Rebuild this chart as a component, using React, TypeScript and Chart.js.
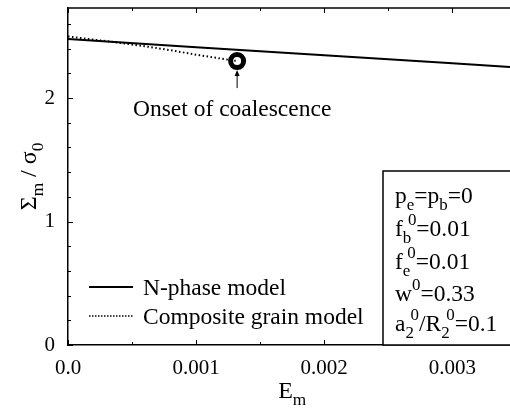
import React, { useEffect, useRef } from "react";
import { Chart, registerables } from "chart.js";

Chart.register(...registerables);

// ---- data ----
const NPHASE_X = [0, 0.001, 0.002, 0.003, 0.00345];
const NPHASE_Y = [2.478, 2.413, 2.347, 2.282, 2.252];

const COMPOSITE_X = [0, 0.0002, 0.0004, 0.0006, 0.0008, 0.001, 0.00132];
const COMPOSITE_Y = [2.5, 2.474, 2.448, 2.42, 2.388, 2.352, 2.3];

const ONSET_X = [0.00132];
const ONSET_Y = [2.3];

const X_TICKS = [0, 0.001, 0.002, 0.003];
const X_TICK_LABELS = ["0.0", "0.001", "0.002", "0.003"];
const X_MINOR = [0.0005, 0.0015, 0.0025];
const Y_TICKS = [0, 1, 2];
const Y_TICK_LABELS = ["0", "1", "2"];
const Y_MINOR = [0.2, 0.4, 0.6, 0.8, 1.2, 1.4, 1.6, 1.8, 2.2, 2.4, 2.6];

const X_MIN = 0;
const X_MAX = 0.00345;
const Y_MIN = 0;
const Y_MAX = 2.73;

const LEGEND_LABELS = ["N-phase model", "Composite grain model"];
const ANNOTATION = "Onset of coalescence";

const FONT = '"Liberation Serif", "Times New Roman", serif';

type Seg = { t: string; sub?: string; sup?: string };

const PARAMS: Seg[][] = [
  [{ t: "p", sub: "e" }, { t: "=p", sub: "b" }, { t: "=0" }],
  [{ t: "f", sub: "b", sup: "0" }, { t: "=0.01" }],
  [{ t: "f", sub: "e", sup: "0" }, { t: "=0.01" }],
  [{ t: "w", sup: "0" }, { t: "=0.33" }],
  [{ t: "a", sub: "2", sup: "0" }, { t: "/R", sub: "2", sup: "0" }, { t: "=0.1" }],
];

function richWidth(ctx: CanvasRenderingContext2D, segs: Seg[], size: number) {
  let w = 0;
  const small = size * 0.72;
  for (const s of segs) {
    ctx.font = `${size}px ${FONT}`;
    w += ctx.measureText(s.t).width;
    ctx.font = `${small}px ${FONT}`;
    const subW = s.sub ? ctx.measureText(s.sub).width : 0;
    const supW = s.sup ? ctx.measureText(s.sup).width : 0;
    const supX = s.sub ? subW * 0.6 : 0;
    w += Math.max(subW, s.sup ? supX + supW : 0);
  }
  return w;
}

function drawRich(ctx: CanvasRenderingContext2D, x: number, y: number, segs: Seg[], size: number) {
  const small = size * 0.72;
  ctx.textAlign = "left";
  ctx.textBaseline = "alphabetic";
  for (const s of segs) {
    ctx.font = `${size}px ${FONT}`;
    ctx.fillText(s.t, x, y);
    x += ctx.measureText(s.t).width;
    ctx.font = `${small}px ${FONT}`;
    const subW = s.sub ? ctx.measureText(s.sub).width : 0;
    const supW = s.sup ? ctx.measureText(s.sup).width : 0;
    if (s.sub) ctx.fillText(s.sub, x, y + size * 0.28);
    const supX = s.sub ? subW * 0.6 : 0;
    if (s.sup) ctx.fillText(s.sup, x + supX, y - size * 0.48);
    x += Math.max(subW, s.sup ? supX + supW : 0);
  }
}

const decorPlugin = {
  id: "decor",
  afterDraw(chart: any) {
    const ctx: CanvasRenderingContext2D = chart.ctx;
    const { left, right, top, bottom } = chart.chartArea;
    const xs = chart.scales.x;
    const ys = chart.scales.y;
    ctx.save();
    ctx.strokeStyle = "#000";
    ctx.fillStyle = "#000";

    // top frame line
    ctx.lineWidth = 1.5;
    ctx.beginPath();
    ctx.moveTo(left, top);
    ctx.lineTo(right, top);
    ctx.stroke();

    // inward tick marks
    ctx.lineWidth = 1;
    const tick = (x1: number, y1: number, x2: number, y2: number) => {
      ctx.beginPath();
      ctx.moveTo(x1, y1);
      ctx.lineTo(x2, y2);
      ctx.stroke();
    };
    for (const v of X_TICKS) {
      const px = Math.round(xs.getPixelForValue(v)) + 0.5;
      tick(px, bottom, px, bottom - 5);
      tick(px, top, px, top + 5);
    }
    for (const v of X_MINOR) {
      const px = Math.round(xs.getPixelForValue(v)) + 0.5;
      tick(px, bottom, px, bottom - 3);
      tick(px, top, px, top + 3);
    }
    for (const v of Y_TICKS) {
      const py = Math.round(ys.getPixelForValue(v)) + 0.5;
      tick(left, py, left + 5, py);
    }
    for (const v of Y_MINOR) {
      const py = Math.round(ys.getPixelForValue(v)) + 0.5;
      tick(left, py, left + 3, py);
    }

    // legend
    ctx.lineWidth = 2;
    ctx.setLineDash([]);
    tick(89, 287, 133, 287);
    ctx.setLineDash([1.5, 1.5]);
    ctx.lineWidth = 1.5;
    tick(89, 316, 133, 316);
    ctx.setLineDash([]);
    ctx.font = `23.5px ${FONT}`;
    ctx.textAlign = "left";
    ctx.textBaseline = "alphabetic";
    ctx.fillText(LEGEND_LABELS[0], 143, 295);
    ctx.fillText(LEGEND_LABELS[1], 143, 324);

    // annotation arrow
    const mx = xs.getPixelForValue(ONSET_X[0]);
    const my = ys.getPixelForValue(ONSET_Y[0]);
    ctx.lineWidth = 1;
    tick(mx, my + 12, mx, my + 27);
    ctx.beginPath();
    ctx.moveTo(mx, my + 9);
    ctx.lineTo(mx - 2.5, my + 15);
    ctx.lineTo(mx + 2.5, my + 15);
    ctx.closePath();
    ctx.fill();
    ctx.font = `23.5px ${FONT}`;
    ctx.fillText(ANNOTATION, 133, 116);

    // parameter box
    ctx.fillStyle = "#fff";
    ctx.fillRect(383, 171, right - 383 + 5, bottom - 171);
    ctx.fillStyle = "#000";
    ctx.lineWidth = 1.5;
    ctx.strokeRect(383, 171, right - 383 + 10, bottom - 171);
    const baselines = [203, 236, 269, 301, 331];
    PARAMS.forEach((segs, i) => drawRich(ctx, 395, baselines[i], segs, 23.5));

    // axis titles
    const xt: Seg[] = [{ t: "E", sub: "m" }];
    const xw = richWidth(ctx, xt, 24);
    drawRich(ctx, (left + xs.getPixelForValue(0.0035)) / 2 - xw / 2, 398, xt, 24);

    const yt: Seg[] = [{ t: "Σ", sub: "m" }, { t: " / σ", sub: "0" }];
    const yw = richWidth(ctx, yt, 24);
    ctx.translate(36, (top + bottom) / 2);
    ctx.rotate(-Math.PI / 2);
    drawRich(ctx, -yw / 2, 0, yt, 24);

    ctx.restore();
  },
};

export default function App() {
  const ref = useRef<HTMLCanvasElement | null>(null);
  useEffect(() => {
    document.body.style.margin = "0";
    const canvas = ref.current;
    if (!canvas) return;
    const chart = new Chart(canvas, {
      type: "scatter",
      data: {
        datasets: [
          {
            label: LEGEND_LABELS[0],
            data: NPHASE_X.map((x, i) => ({ x, y: NPHASE_Y[i] })),
            showLine: true,
            borderColor: "#000",
            borderWidth: 2,
            pointRadius: 0,
          },
          {
            label: LEGEND_LABELS[1],
            data: COMPOSITE_X.map((x, i) => ({ x, y: COMPOSITE_Y[i] })),
            showLine: true,
            borderColor: "#000",
            borderWidth: 2,
            borderDash: [1.5, 2.5],
            pointRadius: 0,
          },
          {
            label: ANNOTATION,
            data: ONSET_X.map((x, i) => ({ x, y: ONSET_Y[i] })),
            showLine: false,
            pointRadius: 6.5,
            pointBorderWidth: 5,
            pointBorderColor: "#000",
            pointBackgroundColor: "#fff",
          },
        ],
      },
      options: {
        responsive: false,
        animation: false,
        events: [],
        layout: { autoPadding: false, padding: { top: 8, right: 0, left: 0, bottom: 0 } },
        plugins: { legend: { display: false }, tooltip: { enabled: false }, title: { display: false } },
        scales: {
          x: {
            type: "linear",
            min: X_MIN,
            max: X_MAX,
            grid: { display: false, drawTicks: false, tickLength: 0 },
            border: { display: true, color: "#000", width: 1.5 },
            afterBuildTicks: (s: any) => {
              s.ticks = X_TICKS.map((v) => ({ value: v }));
            },
            afterFit: (s: any) => {
              s.height = 63;
              s.paddingLeft = 0;
              s.paddingRight = 0;
              s.paddingTop = 0;
              s.paddingBottom = 0;
            },
            ticks: {
              color: "#000",
              font: { family: FONT, size: 21 },
              padding: 11,
              maxRotation: 0,
              autoSkip: false,
              callback: (v: any) => {
                const i = X_TICKS.indexOf(Number(v));
                return i >= 0 ? X_TICK_LABELS[i] : "";
              },
            },
          },
          y: {
            type: "linear",
            min: Y_MIN,
            max: Y_MAX,
            grid: { display: false, drawTicks: false, tickLength: 0 },
            border: { display: true, color: "#000", width: 1.5 },
            afterBuildTicks: (s: any) => {
              s.ticks = Y_TICKS.map((v) => ({ value: v }));
            },
            afterFit: (s: any) => {
              s.width = 68;
              s.paddingLeft = 0;
              s.paddingRight = 0;
              s.paddingTop = 0;
              s.paddingBottom = 0;
            },
            ticks: {
              color: "#000",
              font: { family: FONT, size: 21 },
              padding: 13,
              autoSkip: false,
              callback: (v: any) => {
                const i = Y_TICKS.indexOf(Number(v));
                return i >= 0 ? Y_TICK_LABELS[i] : "";
              },
            },
          },
        },
      },
      plugins: [decorPlugin],
    } as any);
    return () => chart.destroy();
  }, []);
  return (
    <div style={{ position: "absolute", left: 0, top: 0, width: 510, height: 408, background: "#fff" }}>
      <canvas ref={ref} width={510} height={408} style={{ display: "block", width: 510, height: 408 }} />
    </div>
  );
}
